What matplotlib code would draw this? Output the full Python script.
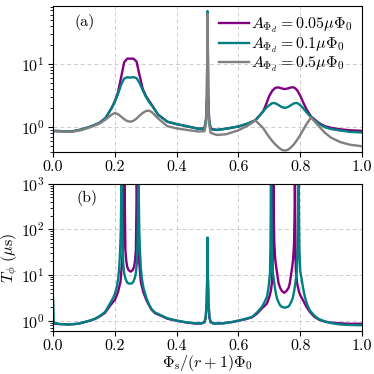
import numpy as np
import matplotlib
matplotlib.use("Agg")
from matplotlib import pyplot as plt

plt.rcParams['font.family'] = 'serif'
plt.rcParams['font.serif'] = ['cmr10']
plt.rcParams['mathtext.fontset'] = 'cm'
plt.rcParams['axes.formatter.use_mathtext'] = True
plt.rcParams['font.size'] = 11.5

# ---- panel (a): dephasing time vs flux, three drive amplitudes ----
x_a = [0.0, 0.03, 0.06, 0.09, 0.12, 0.15, 0.17, 0.19, 0.2, 0.21,
       0.22, 0.23, 0.24, 0.25, 0.26, 0.27, 0.28, 0.29, 0.3, 0.31,
       0.32, 0.34, 0.37, 0.4, 0.44, 0.47, 0.49, 0.495, 0.498, 0.5,
       0.502, 0.505, 0.51, 0.53, 0.56, 0.6, 0.63, 0.655, 0.68, 0.69,
       0.7, 0.71, 0.72, 0.73, 0.74, 0.75, 0.76, 0.77, 0.78, 0.79,
       0.8, 0.81, 0.82, 0.835, 0.86, 0.88, 0.9, 0.93, 0.96, 1.0]
t_a_005 = [0.86, 0.85, 0.84, 0.9, 1.0, 1.15, 1.38, 2.0, 2.55, 3.5,
           6.0, 10.5, 12.0, 12.0, 12.0, 10.8, 6.5, 4.0, 3.1, 2.6,
           2.2, 1.55, 1.2, 1.1, 1.0, 0.93, 0.94, 1.3, 3.0, 66,
           3.0, 1.3, 0.92, 0.89, 0.93, 1.01, 1.12, 1.27, 1.75, 2.3,
           3.1, 3.75, 4.15, 4.2, 4.05, 3.95, 4.05, 4.2, 4.2, 3.8,
           3.1, 2.4, 1.9, 1.45, 1.15, 1.02, 0.96, 0.91, 0.88, 0.86]
t_a_01 = [0.86, 0.85, 0.84, 0.9, 1.0, 1.15, 1.38, 2.0, 2.5, 3.3,
          4.6, 5.8, 6.1, 6.0, 6.1, 5.9, 4.9, 3.8, 3.0, 2.5,
          2.15, 1.55, 1.2, 1.1, 1.0, 0.93, 0.94, 1.3, 3.0, 68,
          3.0, 1.3, 0.92, 0.89, 0.93, 1.01, 1.12, 1.27, 1.75, 2.0,
          2.2, 2.38, 2.35, 2.2, 2.05, 1.99, 2.05, 2.2, 2.35, 2.38,
          2.2, 1.95, 1.7, 1.42, 1.12, 0.98, 0.92, 0.87, 0.83, 0.81]
t_a_05 = [0.85, 0.84, 0.83, 0.88, 0.98, 1.12, 1.3, 1.56, 1.65, 1.58,
          1.45, 1.32, 1.23, 1.2, 1.24, 1.35, 1.5, 1.65, 1.77, 1.8,
          1.7, 1.35, 1.02, 0.94, 0.88, 0.84, 0.85, 1.15, 2.6, 62,
          2.6, 1.1, 0.8, 0.74, 0.76, 0.88, 1.04, 1.26, 0.95, 0.8,
          0.68, 0.59, 0.52, 0.47, 0.43, 0.42, 0.43, 0.47, 0.53, 0.62,
          0.74, 0.9, 1.1, 1.4, 1.02, 0.8, 0.67, 0.57, 0.52, 0.49]

# ---- panel (b): two amplitudes, diverging near the sweet spots ----
x_b_005 = [0.0, 0.02, 0.05, 0.08, 0.1, 0.12, 0.136, 0.15, 0.168, 0.184,
           0.195, 0.2, 0.21, 0.218, 0.223, 0.227, 0.229, 0.2303, 0.2308,
           0.2315, 0.232, 0.234, 0.237, 0.24, 0.244, 0.251, 0.258, 0.262,
           0.265, 0.268, 0.27, 0.2705,
           0.2712, 0.2717, 0.273, 0.275, 0.279, 0.284, 0.292, 0.302, 0.31,
           0.318, 0.33, 0.35, 0.37, 0.4, 0.43, 0.46, 0.48, 0.49,
           0.494, 0.497, 0.499, 0.5, 0.501, 0.503, 0.506, 0.51, 0.52, 0.55,
           0.58, 0.6, 0.62, 0.644, 0.66, 0.676, 0.692, 0.7, 0.705, 0.708,
           0.71, 0.7115, 0.7125, 0.713,
           0.7135, 0.714, 0.716, 0.719, 0.722, 0.73, 0.735, 0.74, 0.748,
           0.756, 0.762, 0.766, 0.774, 0.777, 0.78, 0.782, 0.7825,
           0.783, 0.7835, 0.7845, 0.786, 0.79, 0.795, 0.8, 0.81, 0.82,
           0.831, 0.845, 0.86, 0.88, 0.9, 0.93, 0.96, 1.0]
t_b_005 = [0.86, 0.84, 0.82, 0.85, 0.92, 1.0, 1.09, 1.22, 1.48, 2.1,
           2.6, 2.8, 4.2, 7.0, 18, 50, 150, 1000, 5000,
           5000, 400, 35, 20, 15, 12.8, 11.8, 12.8, 15,
           20, 35, 400, 5000,
           5000, 1000, 150, 50, 18, 7.0, 4.2, 2.8, 2.2,
           1.75, 1.45, 1.27, 1.1, 0.99, 0.91, 0.86, 0.86, 0.92,
           1.15, 2.3, 9.0, 60, 9.0, 2.3, 1.15, 0.92, 0.86, 0.87,
           0.93, 0.99, 1.06, 1.18, 1.42, 1.85, 2.35, 3.3, 4.5, 6.5,
           12, 40, 300, 5000,
           5000, 300, 50, 22, 15, 6.5, 5.2, 4.5, 4.05,
           4.5, 5.2, 6.5, 15, 22, 50, 300, 5000,
           5000, 300, 40, 12, 6.5, 4.5, 3.6, 2.7, 2.0,
           1.55, 1.22, 1.05, 0.95, 0.9, 0.87, 0.85, 0.85]

x_b_01 = [0.0, 0.002, 0.02, 0.05, 0.08, 0.1, 0.12, 0.136, 0.15, 0.168,
          0.184, 0.195, 0.2, 0.205, 0.21, 0.214, 0.217, 0.219, 0.221, 0.2215,
          0.2225, 0.2235, 0.225, 0.227, 0.23, 0.234, 0.238, 0.242, 0.249,
          0.256, 0.26, 0.264, 0.268, 0.271, 0.273, 0.2745, 0.2755,
          0.2765, 0.277, 0.279, 0.281, 0.284, 0.288, 0.293, 0.298, 0.303,
          0.31, 0.318, 0.33, 0.35, 0.37, 0.4, 0.43, 0.46, 0.48, 0.49,
          0.494, 0.497, 0.499, 0.5, 0.501, 0.503, 0.506, 0.51, 0.52, 0.55,
          0.58, 0.6, 0.62, 0.644, 0.66, 0.676, 0.685, 0.692, 0.697, 0.7,
          0.702, 0.7035, 0.7045, 0.705,
          0.706, 0.7065, 0.708, 0.711, 0.716, 0.72, 0.725, 0.73, 0.735,
          0.74, 0.75, 0.76, 0.765, 0.77, 0.775, 0.78, 0.784, 0.789, 0.792,
          0.7935, 0.794,
          0.795, 0.7955, 0.797, 0.8, 0.805, 0.81, 0.815, 0.822, 0.831,
          0.845, 0.858, 0.88, 0.9, 0.93, 0.96, 1.0]
t_b_01 = [3.0, 0.9, 0.84, 0.82, 0.85, 0.92, 1.0, 1.1, 1.25, 1.54,
          2.35, 3.2, 3.9, 5.0, 7.7, 14, 35, 90, 800, 5000,
          5000, 200, 45, 18, 11, 8.4, 7.2, 6.6, 6.4,
          6.6, 7.2, 8.4, 11, 18, 45, 200, 5000,
          5000, 800, 90, 35, 14, 7.7, 5.0, 3.9, 3.0,
          2.3, 1.8, 1.5, 1.3, 1.12, 1.0, 0.92, 0.87, 0.87, 0.93,
          1.2, 2.5, 10, 66, 10, 2.5, 1.2, 0.93, 0.86, 0.87,
          0.93, 1.0, 1.08, 1.2, 1.5, 2.0, 2.6, 3.3, 5.0, 8.0,
          11, 40, 300, 5000,
          5000, 300, 40, 12, 6.5, 4.3, 3.0, 2.5, 2.15,
          2.0, 1.91, 2.0, 2.15, 2.5, 3.0, 4.3, 6.5, 12, 40,
          300, 5000,
          5000, 300, 40, 12, 7.7, 4.8, 3.3, 2.3, 1.67,
          1.3, 1.1, 0.95, 0.88, 0.82, 0.8, 0.79]

c_purple = '#800080'
c_teal = '#008080'
c_gray = '#808080'
lw = 1.7
grid_kw = dict(color='#cccccc', linestyle=(0, (4, 3)), linewidth=0.7)

fig = plt.figure(figsize=(3.74, 3.74), dpi=100)
ax1 = fig.add_axes([0.142, 0.594, 0.826, 0.390])
ax2 = fig.add_axes([0.142, 0.114, 0.826, 0.395])

ax1.plot(x_a, t_a_005, color=c_purple, lw=lw, label=r'$A_{\Phi_d}=0.05\mu\Phi_0$')
ax1.plot(x_a, t_a_01, color=c_teal, lw=lw, label=r'$A_{\Phi_d}=0.1\mu\Phi_0$')
ax1.plot(x_a, t_a_05, color=c_gray, lw=lw, label=r'$A_{\Phi_d}=0.5\mu\Phi_0$')
ax1.set_yscale('log')
ax1.set_xlim(0, 1)
ax1.set_ylim(0.4, 82)
ax1.grid(True, **grid_kw)
ax1.text(0.07, 0.89, '(a)', transform=ax1.transAxes, ha='left', va='center')
ax1.legend(loc='upper right', frameon=False, handlelength=1.9,
           handletextpad=0.1, labelspacing=0.0, borderaxespad=0.2,
           fontsize=11.5)

ax2.plot(x_b_005, t_b_005, color=c_purple, lw=lw)
ax2.plot(x_b_01, t_b_01, color=c_teal, lw=lw)
ax2.set_yscale('log')
ax2.set_xlim(0, 1)
ax2.set_ylim(0.58, 1000)
ax2.grid(True, **grid_kw)
ax2.text(0.075, 0.9, '(b)', transform=ax2.transAxes, ha='left', va='center')
ax2.set_ylabel(r'$T_\phi\ (\mu{\rm s})$', labelpad=1)
ax2.set_xlabel(r'$\Phi_{\rm s}/(r+1)\Phi_0$', labelpad=0)

for ax in (ax1, ax2):
    ax.set_xticks([0.0, 0.2, 0.4, 0.6, 0.8, 1.0])
    ax.set_xticklabels(['0.0', '0.2', '0.4', '0.6', '0.8', '1.0'])
    ax.tick_params(axis='both', which='major', length=3.5, width=0.8, pad=2.5)
    ax.tick_params(axis='y', which='minor', length=2, width=0.6)

fig.savefig('out.png', dpi=100)
